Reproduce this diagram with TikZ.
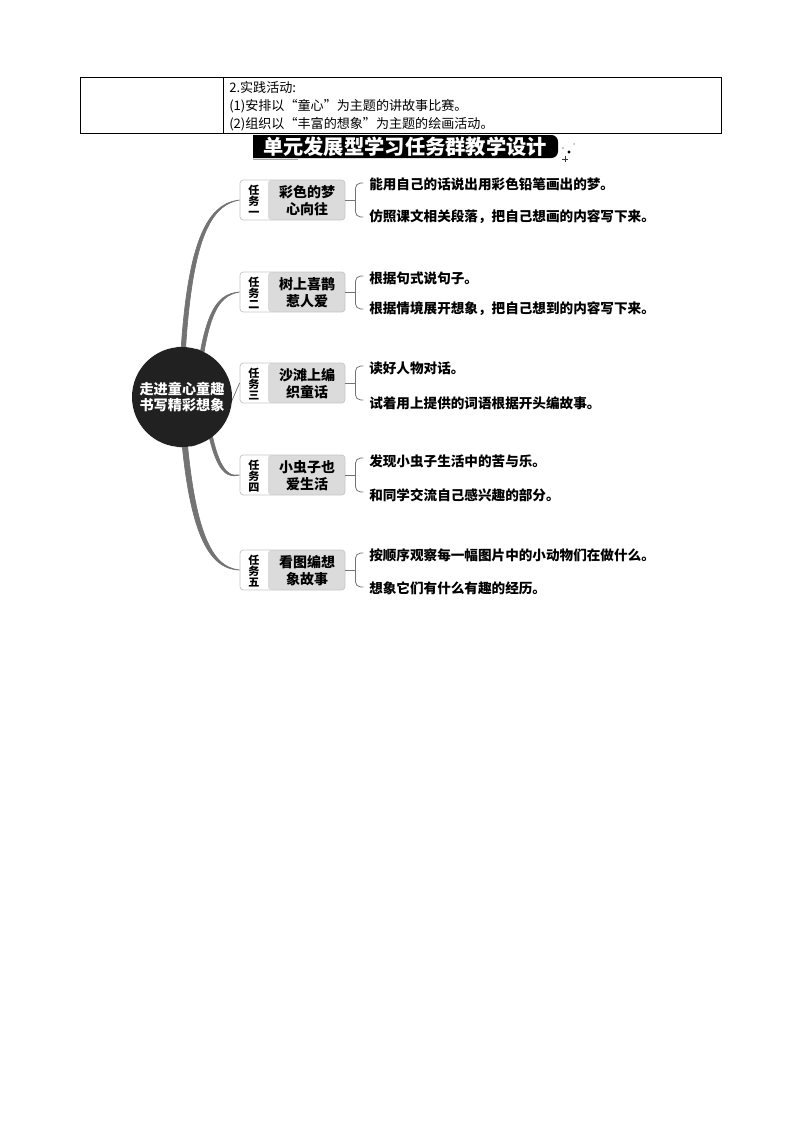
\documentclass[tikz,border=0pt]{standalone}
\usepackage{fontspec}
\setmainfont{Noto Sans CJK SC}
\usepackage{tikz}

\begin{document}
\begin{tikzpicture}[x=0.75pt,y=-0.75pt,
  tbltext/.style={anchor=west,inner sep=0pt,font=\fontsize{9.8}{12}\selectfont},
  limb/.style={fill=black!55,draw=black!55,line width=0.5pt},
  taskbox/.style={draw=black!22,line width=0.6pt,rounded corners=2.5pt,
    minimum width=78.75pt,minimum height=30pt,inner sep=0pt,
    path picture={\fill[black!14] ([xshift=21pt]path picture bounding box.north west)
      rectangle (path picture bounding box.south east);}},
  tagtext/.style={align=center,inner sep=0pt,font=\fontsize{8.3}{8.4}\selectfont\bfseries},
  nametext/.style={align=center,inner sep=0pt,font=\fontsize{10.5}{12.8}\selectfont\bfseries},
  brc/.style={draw=black!55,line width=0.6pt,rounded corners=4pt},
  rtext/.style={anchor=west,inner sep=0pt,font=\fontsize{10.2}{12}\selectfont\bfseries}]

\useasboundingbox (0,0) rectangle (800,1132);

% table on top
\draw[line width=0.6pt] (80,77) rectangle (721,133);
\draw[line width=0.6pt] (223,77) -- (223,133);
\node[tbltext] (p1) at (229,87) {2.实践活动:};
\node[tbltext] (p2) at (229,106) {(1)安排以“童心”为主题的讲故事比赛。};
\node[tbltext] (p3) at (229,124) {(2)组织以“丰富的想象”为主题的绘画活动。};

% banner
\fill (253,158) -- (253,135) [rounded corners=5pt] -- (558,135) -- (558,158) [sharp corners] -- cycle;
\draw[black!35,line width=1.2pt] (253,159.5) -- (298,159.5);
\node[text=white,font=\fontsize{15.2}{18}\selectfont\bfseries] (ttl) at (405,146.5) {单元发展型学习任务群教学设计};
\fill[black!45] (563,148) circle (0.9);
\fill[black!30] (574,144) circle (1);
\fill (569,152) circle (1.6);
\draw[black!80,line width=0.6pt] (562,159) -- (568,159) (565,156) -- (565,162);

% task boxes
\node[taskbox] (b1) at (292.5,200) {};
\node[taskbox] (b2) at (292.5,292) {};
\node[taskbox] (b3) at (292.5,383) {};
\node[taskbox] (b4) at (292.5,475) {};
\node[taskbox] (b5) at (292.5,570) {};

\node[tagtext] (g1) at (254,201) {任\\务\\一};
\node[tagtext] (g2) at (254,293) {任\\务\\二};
\node[tagtext] (g3) at (254,384) {任\\务\\三};
\node[tagtext] (g4) at (254,476) {任\\务\\四};
\node[tagtext] (g5) at (254,571) {任\\务\\五};

\node[nametext] (m1) at (307,201) {彩色的梦\\心向往};
\node[nametext] (m2) at (307,293) {树上喜鹊\\惹人爱};
\node[nametext] (m3) at (307,384) {沙滩上编\\织童话};
\node[nametext] (m4) at (307,476) {小虫子也\\爱生活};
\node[nametext] (m5) at (307,571) {看图编想\\象故事};

% limbs from the hub
\coordinate (hub) at (182,397);
\filldraw[limb] ([shift={(94.5:50)}]hub) .. controls (179,250) and (203,204) .. (b1.west)
  .. controls (205,206) and (184,252) .. ([shift={(89.5:50)}]hub) -- cycle;
\filldraw[limb] ([shift={(79.5:50)}]hub) .. controls (198,312) and (215,294) .. (b2.west)
  .. controls (217,296) and (202,314) .. ([shift={(74.5:50)}]hub) -- cycle;
\draw[limb] ([shift={(8:49)}]hub) -- (b3.west);
\filldraw[limb] ([shift={(291:50)}]hub) .. controls (212,469) and (225,477) .. (b4.west)
  .. controls (223,479) and (208,471) .. ([shift={(287:50)}]hub) -- cycle;
\filldraw[limb] ([shift={(270:50)}]hub) .. controls (187,530) and (210,567) .. (b5.west)
  .. controls (207,569) and (181,532) .. ([shift={(264:50)}]hub) -- cycle;

\node[circle,fill=black!87,minimum size=75pt,inner sep=0pt,align=center,text=white,
  font=\fontsize{10.6}{12.6}\selectfont\bfseries] (core) at (hub) {走进童心童趣\\书写精彩想象};

% braces and aims
\draw[brc] (b1.east) -- ++(10,0) coordinate (k1);
\draw[brc] (k1) ++(8,-17) -- ++(-8,0) -- ++(0,34) -- ++(8,0);
\node[rtext] (r11) at (369,184) {能用自己的话说出用彩色铅笔画出的梦。};
\node[rtext] (r12) at (369,217) {仿照课文相关段落，把自己想画的内容写下来。};

\draw[brc] (b2.east) -- ++(10,0) coordinate (k2);
\draw[brc] (k2) ++(8,-16) -- ++(-8,0) -- ++(0,33) -- ++(8,0);
\node[rtext] (r21) at (369,278) {根据句式说句子。};
\node[rtext] (r22) at (369,309) {根据情境展开想象，把自己想到的内容写下来。};

\draw[brc] (b3.east) -- ++(10,0) coordinate (k3);
\draw[brc] (k3) ++(8,-17) -- ++(-8,0) -- ++(0,34) -- ++(8,0);
\node[rtext] (r31) at (369,368) {读好人物对话。};
\node[rtext] (r32) at (369,403) {试着用上提供的词语根据开头编故事。};

\draw[brc] (b4.east) -- ++(10,0) coordinate (k4);
\draw[brc] (k4) ++(8,-17) -- ++(-8,0) -- ++(0,34) -- ++(8,0);
\node[rtext] (r41) at (369,461) {发现小虫子生活中的苦与乐。};
\node[rtext] (r42) at (369,495) {和同学交流自己感兴趣的部分。};

\draw[brc] (b5.east) -- ++(10,0) coordinate (k5);
\draw[brc] (k5) ++(8,-17) -- ++(-8,0) -- ++(0,34) -- ++(8,0);
\node[rtext] (r51) at (369,555) {按顺序观察每一幅图片中的小动物们在做什么。};
\node[rtext] (r52) at (369,588) {想象它们有什么有趣的经历。};

\end{tikzpicture}
\end{document}
